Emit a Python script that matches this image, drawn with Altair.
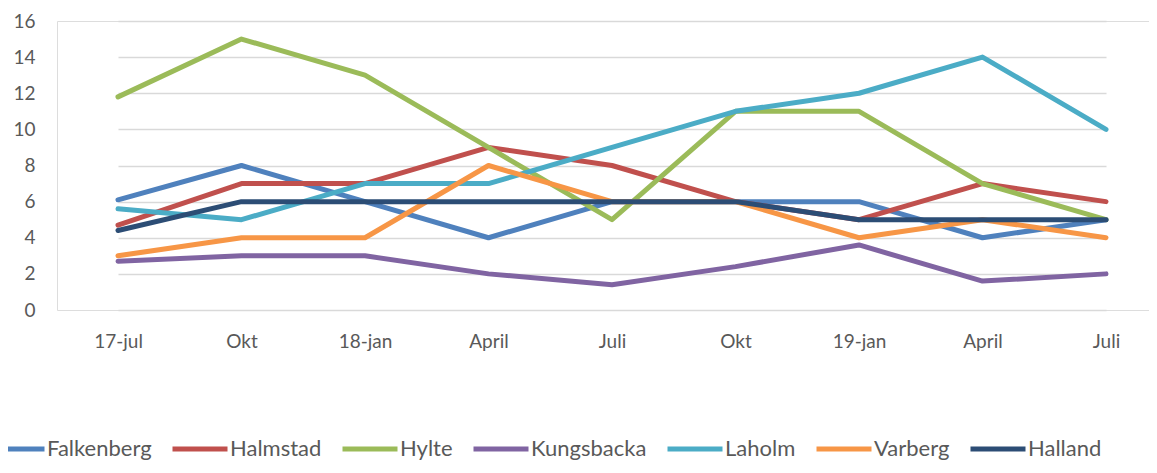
import altair as alt
import pandas as pd

x_labels = ["17-jul", "Okt", "18-jan", "April", "Juli", "Okt", "19-jan", "April", "Juli"]
series = ["Falkenberg", "Halmstad", "Hylte", "Kungsbacka", "Laholm", "Varberg", "Halland"]
colors = ["#4F81BD", "#C0504D", "#9BBB59", "#8064A2", "#4BACC6", "#F79646", "#2C4D75"]

falkenberg = [6.1, 8, 6, 4, 6, 6, 6, 4, 5]
halmstad = [4.7, 7, 7, 9, 8, 6, 5, 7, 6]
hylte = [11.8, 15, 13, 9, 5, 11, 11, 7, 5]
kungsbacka = [2.7, 3, 3, 2, 1.4, 2.4, 3.6, 1.6, 2]
laholm = [5.6, 5, 7, 7, 9, 11, 12, 14, 10]
varberg = [3, 4, 4, 8, 6, 6, 4, 5, 4]
halland = [4.4, 6, 6, 6, 6, 6, 5, 5, 5]

values = [falkenberg, halmstad, hylte, kungsbacka, laholm, varberg, halland]

rows = []
for s_i, (name, vals) in enumerate(zip(series, values)):
    for i, v in enumerate(vals):
        rows.append({"idx": i, "serie": name, "order": s_i, "value": v})
df = pd.DataFrame(rows)

label_js = "[" + ",".join("'" + l + "'" for l in x_labels) + "]"
FONT = "Lato"
GRAY = "#595959"

layers = []
for name, col in zip(series, colors):
    layers.append(
        alt.Chart(df)
        .transform_filter(alt.datum.serie == name)
        .mark_line(strokeWidth=5, strokeCap="round", strokeJoin="round")
        .encode(
            x=alt.X(
                "idx:O",
                scale=alt.Scale(type="point", range=[61, 1049], padding=0),
                axis=alt.Axis(
                    title=None,
                    labelExpr=label_js + "[datum.value]",
                    labelAngle=0,
                    ticks=False,
                    domain=False,
                    grid=False,
                    labelPadding=22,
                    labelFontSize=19,
                    labelFont=FONT,
                    labelColor=GRAY,
                ),
            ),
            y=alt.Y(
                "value:Q",
                scale=alt.Scale(domain=[0, 16], nice=False),
                axis=alt.Axis(
                    title=None,
                    values=[0, 2, 4, 6, 8, 10, 12, 14, 16],
                    ticks=False,
                    domain=False,
                    grid=True,
                    gridColor="#D9D9D9",
                    gridWidth=1.4,
                    labelPadding=22,
                    labelFontSize=19,
                    labelFont=FONT,
                    labelColor=GRAY,
                ),
            ),
            color=alt.Color(
                "serie:N",
                scale=alt.Scale(domain=series, range=colors),
                legend=alt.Legend(
                    title=None,
                    orient="none",
                    legendX=-70,
                    legendY=398,
                    direction="horizontal",
                    symbolType="stroke",
                    symbolSize=3025,
                    symbolStrokeWidth=5,
                    labelFontSize=22,
                    labelFont=FONT,
                    labelColor=GRAY,
                    labelOffset=0,
                    columnPadding=10,
                ),
            ),
        )
    )

chart = (
    alt.layer(*layers)
    .properties(
        width=1092,
        height=289,
        autosize=alt.AutoSizeParams(type="none"),
        padding={"left": 49, "top": 13, "right": 0, "bottom": 155},
    )
    .configure_view(stroke=None)
    .configure(background="white")
)

chart.save("out.html", embed_options={"renderer": "svg", "actions": False})
